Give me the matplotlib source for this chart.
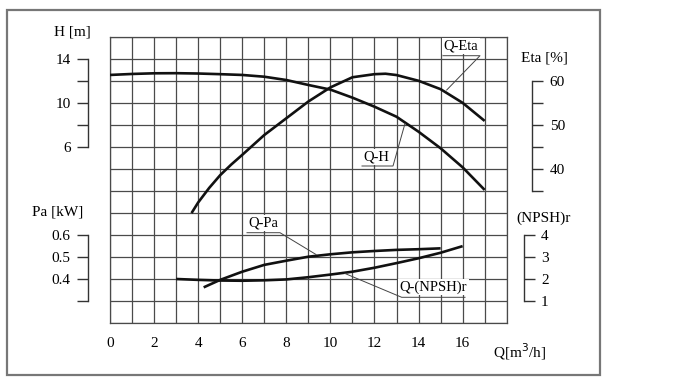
# ==========================================================
# PUMP PERFORMANCE CURVES - Q-H / Q-Eta / Q-Pa / Q-(NPSH)r
# ==========================================================

import matplotlib
matplotlib.use("Agg")
import matplotlib.pyplot as plt
from matplotlib.patches import Rectangle

# ==========================================================
# DATA
# ==========================================================

q_h = [0, 1, 2, 3, 4, 5, 6, 7, 8, 9, 10, 11, 12, 13, 14, 15, 16, 17]
h_m = [12.53, 12.62, 12.68, 12.69, 12.66, 12.6, 12.53, 12.37, 12.07,
       11.62, 11.2, 10.47, 9.65, 8.74, 7.38, 5.88, 4.15, 2.1]

q_eta = [3.7, 4, 4.5, 5, 5.5, 6, 7, 8, 9, 10, 11, 12, 12.5, 13, 14, 15, 16, 17]
eta_pct = [30.0, 32.4, 35.7, 38.6, 41.0, 43.2, 47.7, 51.5, 55.3, 58.5,
           60.8, 61.5, 61.6, 61.3, 60.0, 58.1, 55.0, 50.9]

q_pa = [4.25, 5, 6, 7, 8, 9, 10, 11, 12, 13, 14, 15]
pa_kw = [0.363, 0.397, 0.434, 0.465, 0.484, 0.502, 0.513, 0.522,
         0.528, 0.533, 0.536, 0.540]

q_npsh = [3, 4, 5, 6, 7, 8, 9, 10, 11, 12, 13, 14, 15, 16]
npsh_m = [2.01, 1.97, 1.94, 1.93, 1.95, 1.99, 2.09, 2.21, 2.34, 2.52,
          2.73, 2.95, 3.2, 3.5]

q_ticks = [0, 2, 4, 6, 8, 10, 12, 14, 16]
h_ticks = [6, 8, 10, 12, 14]
h_labels = ["6", "", "10", "", "14"]
eta_ticks = [35, 40, 45, 50, 55, 60]
eta_labels = ["", "40", "", "50", "", "60"]
pa_ticks = [0.3, 0.4, 0.5, 0.6]
pa_labels = ["", "0.4", "0.5", "0.6"]
npsh_ticks = [1, 2, 3, 4]
npsh_labels = ["1", "2", "3", "4"]

# ==========================================================
# SETTINGS
# ==========================================================

plt.rcParams["font.family"] = ["Liberation Serif", "DejaVu Serif"]
plt.rcParams["font.size"] = 11

W, H = 700, 385
GRID_L, GRID_R, GRID_T, GRID_B = 110, 506.7, 36.7, 323.3
INK = "#111111"
GRID_C = "#4a4a4a"


def fx(px):
    return px / W


def fy(py):
    return 1 - py / H


AX_POS = [fx(GRID_L), fy(GRID_B), fx(GRID_R - GRID_L), (GRID_B - GRID_T) / H]
AX_W = GRID_R - GRID_L

# ==========================================================
# AXES
# ==========================================================


def bracket_axis(fig, ylim, side, offset_px, bounds, ticks, labels, pad):
    a = fig.add_axes(AX_POS, facecolor="none")
    a.set_xlim(0, 18)
    a.set_ylim(*ylim)
    a.xaxis.set_visible(False)
    for s in a.spines.values():
        s.set_visible(False)
    sp = a.spines[side]
    sp.set_visible(True)
    sp.set_bounds(*bounds)
    sp.set_color("#333333")
    sp.set_linewidth(1.0)
    if side == "left":
        sp.set_position(("axes", -offset_px / AX_W))
        a.yaxis.set_ticks_position("left")
    else:
        sp.set_position(("axes", 1 + offset_px / AX_W))
        a.yaxis.set_ticks_position("right")
        a.yaxis.set_label_position("right")
    a.set_yticks(ticks)
    a.set_yticklabels(labels)
    a.tick_params(axis="y", direction="out", length=8, width=1.0,
                  color="#333333", pad=pad, labelsize=11)
    return a


def grafico():
    fig = plt.figure(figsize=(7, 3.85), dpi=100)

    # outer frame
    fig.patches.append(Rectangle((fx(7), fy(375)), fx(593), 365 / H,
                                 transform=fig.transFigure, fill=False,
                                 edgecolor="#777777", linewidth=1.6))

    ax = fig.add_axes(AX_POS)
    ax.set_xlim(0, 18)
    ax.set_ylim(-10, 16)
    ax.set_xticks(q_ticks)
    ax.set_xticks(range(19), minor=True)
    ax.set_yticks(range(-10, 17, 2))
    ax.set_yticklabels([])
    ax.grid(True, which="both", color=GRID_C, linewidth=0.9)
    ax.tick_params(axis="both", which="both", length=0)
    ax.tick_params(axis="x", pad=10, labelsize=11)
    for s in ax.spines.values():
        s.set_color(GRID_C)
        s.set_linewidth(0.9)

    ax_h = bracket_axis(fig, (-10, 16), "left", 22, (6, 14), h_ticks, h_labels, 4)
    ax_pa = bracket_axis(fig, (0.2, 1.5), "left", 22, (0.3, 0.6), pa_ticks, pa_labels, 5)
    ax_eta = bracket_axis(fig, (5, 70), "right", 25, (35, 60), eta_ticks, eta_labels, 5)
    ax_np = bracket_axis(fig, (0, 13), "right", 17.6, (1, 4), npsh_ticks, npsh_labels, 4)

    lw = 1.9
    ax_h.plot(q_h, h_m, color=INK, linewidth=lw, solid_capstyle="butt")
    ax_eta.plot(q_eta, eta_pct, color=INK, linewidth=lw, solid_capstyle="butt")
    ax_pa.plot(q_pa, pa_kw, color=INK, linewidth=lw, solid_capstyle="butt")
    ax_np.plot(q_npsh, npsh_m, color=INK, linewidth=lw, solid_capstyle="butt")

    # axis titles
    fig.text(fx(72), fy(32), "H [m]", ha="center", va="center", fontsize=11)
    fig.text(fx(58), fy(212), "Pa [kW]", ha="center", va="center", fontsize=11)
    fig.text(fx(544), fy(58), "Eta [%]", ha="center", va="center", fontsize=11)
    fig.text(fx(544), fy(218), "(NPSH)r", ha="center", va="center", fontsize=11)
    fig.text(fx(520), fy(352), r"Q[m$^{3}$/h]", ha="center", va="center",
             fontsize=11)

    # curve callouts (pixel positions of underline and leader)
    def callout(text, tx, ty, line_pts):
        fig.text(fx(tx), fy(ty), text, ha="center", va="center", fontsize=10.5,
                 zorder=5,
                 bbox=dict(boxstyle="square,pad=0.12", facecolor="white",
                           edgecolor="none"))
        xs = [fx(p[0]) for p in line_pts]
        ys = [fy(p[1]) for p in line_pts]
        fig.add_artist(plt.Line2D(xs, ys, transform=fig.transFigure,
                                  color="#444444", linewidth=0.7, zorder=6))

    callout("Q-Eta", 461, 46, [(443, 55.7), (480, 55.7), (446.7, 90)])
    callout("Q-H", 376, 157, [(362, 166), (393, 166), (405, 123.5)])
    callout("Q-Pa", 263, 223, [(247, 232.7), (280, 232.7), (316, 254.5)])
    callout("Q-(NPSH)r", 433, 287, [(465, 297.3), (401.7, 297.3), (345, 273.5)])

    fig.savefig("out.png", dpi=100)


def main():
    grafico()


if __name__ == "__main__":
    main()
